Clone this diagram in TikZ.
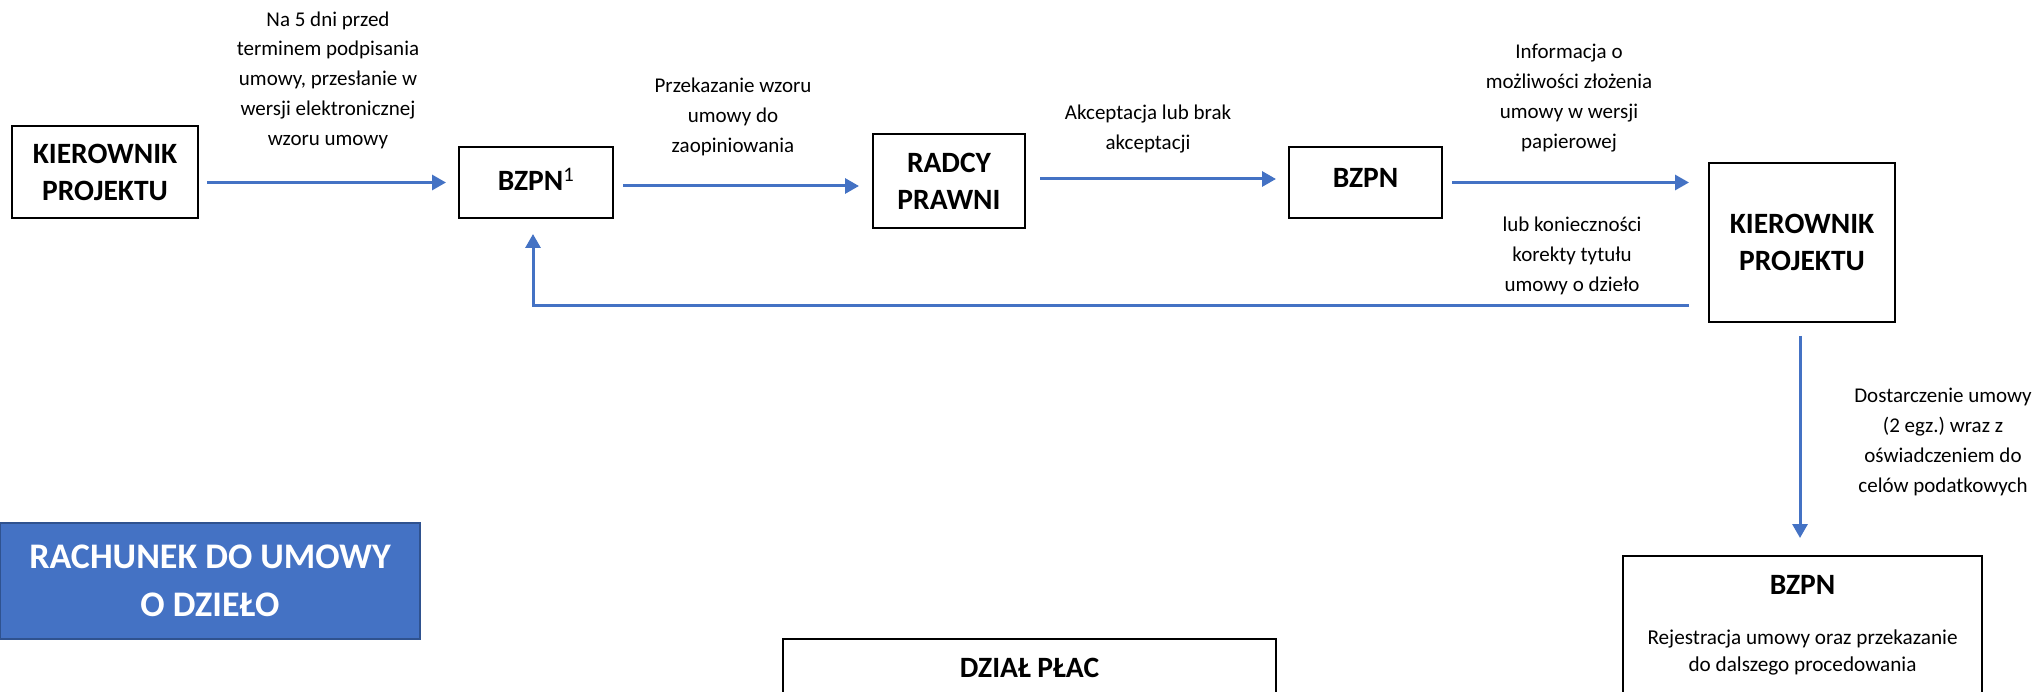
\documentclass[tikz,border=0pt]{standalone}
\usepackage{fontspec}
\setmainfont{Carlito}
\usetikzlibrary{arrows.meta}
\definecolor{arrblue}{HTML}{4472C4}
\definecolor{darkblue}{HTML}{2F528F}
\frenchspacing
\begin{document}
\begin{tikzpicture}[x=1pt,y=-1pt,
  box/.style={draw=black, line width=2pt, inner sep=0pt, align=center,
    font=\fontsize{29.5}{37}\selectfont\bfseries},
  boxtitle/.style={inner sep=0pt, font=\fontsize{29.5}{37}\selectfont\bfseries},
  lbl/.style={inner sep=0pt, align=center, font=\fontsize{21}{29.75}\selectfont},
  small/.style={inner sep=0pt, align=center, font=\fontsize{21.2}{27}\selectfont},
  bluebox/.style={fill=arrblue, draw=darkblue, line width=2pt, inner sep=0pt,
    align=center, text=white, font=\fontsize{36}{48}\selectfont\bfseries},
  arr/.style={draw=arrblue, line width=3pt, -{Triangle[length=14pt,width=15pt]}},
]
\clip (0,0) rectangle (2036,692);
\fill[white] (0,0) rectangle (2036,692);

% boxes
\node[box, minimum width=186pt, minimum height=92pt] (kp1) at (105,172) {KIEROWNIK\\PROJEKTU};
\node[box, minimum width=154pt, minimum height=71pt, text depth=6pt] (bzpn1) at (536,182.5) {BZPN\textsuperscript{\mdseries 1}};
\node[box, minimum width=152pt, minimum height=94pt] (radcy) at (949,181) {RADCY\\PRAWNI};
\node[box, minimum width=153pt, minimum height=71pt, text depth=10pt] (bzpn2) at (1365.5,182.5) {BZPN};
\node[box, minimum width=186pt, minimum height=159pt] (kp2) at (1802,242.5) {KIEROWNIK\\PROJEKTU};
\node[box, minimum width=359pt, minimum height=200pt, anchor=north] (bzpn3) at (1802.5,555) {};
\node[boxtitle] (bzpn3t) at (1802.5,585) {BZPN};
\node[small] (bzpn3d) at (1802.5,652) {Rejestracja umowy oraz przekazanie\\do dalszego procedowania};
\node[box, minimum width=493pt, minimum height=200pt, anchor=north] (dzial) at (1029.5,638) {};
\node[boxtitle] (dzialt) at (1029.5,668) {DZIAŁ PŁAC};
\node[bluebox, minimum width=420pt, minimum height=116pt] (rach) at (210,581) {RACHUNEK DO UMOWY\\O DZIEŁO};

% labels
\node[lbl] (l1) at (328,80) {Na 5 dni przed\\terminem podpisania\\umowy, przesłanie w\\wersji elektronicznej\\wzoru umowy};
\node[lbl] (l2) at (733,117) {Przekazanie wzoru\\umowy do\\zaopiniowania};
\node[lbl] (l3) at (1148,129) {Akceptacja lub brak\\akceptacji};
\node[lbl] (l4) at (1569,98) {Informacja o\\możliwości złożenia\\umowy w wersji\\papierowej};
\node[lbl] (l5) at (1572,256) {lub konieczności\\korekty tytułu\\umowy o dzieło};
\node[lbl] (l6) at (1943,442) {Dostarczenie umowy\\(2 egz.) wraz z\\oświadczeniem do\\celów podatkowych};

% connectors
\draw[arr] ([xshift=8pt]kp1.east |- bzpn1.west) -- ([xshift=-12pt]bzpn1.west);
\draw[arr] ([xshift=9pt,yshift=-3.5pt]bzpn1.east) -- ([xshift=-13pt,yshift=-3.5pt]bzpn1.east -| radcy.west);
\draw[arr] ([xshift=14pt,yshift=2pt]radcy.east) -- ([xshift=-12pt,yshift=2pt]radcy.east -| bzpn2.west);
\draw[arr] ([xshift=9pt]bzpn2.east) -- ([xshift=-19pt]bzpn2.east -| kp2.west);
\draw[arr] ([xshift=-19pt,yshift=-63.5pt]kp2.west) -| ([xshift=-3pt,yshift=-15pt]bzpn1.south);
\draw[arr] ([xshift=-2pt,yshift=-13pt]kp2.south) -- ([xshift=-2pt,yshift=17pt]kp2.south |- bzpn3.north);
\end{tikzpicture}
\end{document}
